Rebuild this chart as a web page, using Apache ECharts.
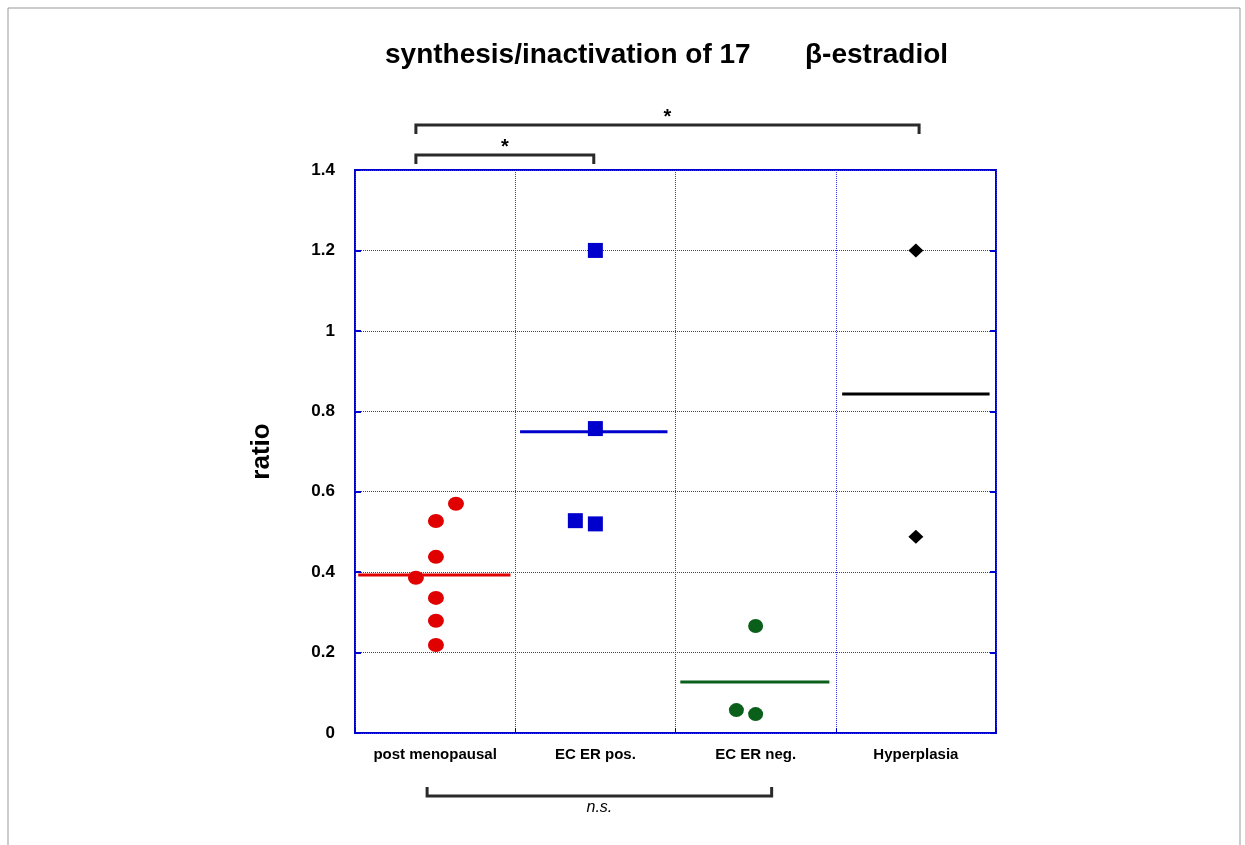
<!DOCTYPE html>
<html lang="en">
<head>
  <meta charset="UTF-8">
  <title>synthesis/inactivation of 17 beta-estradiol</title>
  <script src="https://cdn.jsdelivr.net/npm/echarts@6/dist/echarts.min.js"></script>
  <style>
    html, body { margin: 0; padding: 0; background: #fff; }
    #chart { width: 1245px; height: 845px; }
  </style>
</head>
<body>
<div id="chart"></div>
<script>
  // groups on the x axis
  var categories = ['post menopausal', 'EC ER pos.', 'EC ER neg.', 'Hyperplasia'];
  var yTicks = [0, 0.2, 0.4, 0.6, 0.8, 1, 1.2, 1.4];

  // ratio values per group (x = position across the group, 0..4)
  var pmX = [0.38, 0.505, 0.505, 0.505, 0.505, 0.505, 0.63];
  var pmY = [0.386, 0.438, 0.336, 0.279, 0.219, 0.527, 0.570];
  var posX = [1.5, 1.5, 1.5, 1.375];
  var posY = [1.20, 0.757, 0.52, 0.528];
  var negX = [2.5, 2.38, 2.5];
  var negY = [0.266, 0.057, 0.047];
  var hypX = [3.5, 3.5];
  var hypY = [1.20, 0.488];

  // median lines per group
  var medians = [0.393, 0.749, 0.127, 0.843];
  var medianFrom = [0.02, 1.03, 2.03, 3.04];
  var medianTo = [0.97, 1.95, 2.96, 3.96];

  var colors = ['#e00000', '#0000cc', '#0a5f1a', '#000000'];

  function pts(xs, ys) {
    var out = [];
    for (var i = 0; i < xs.length; i++) out.push([xs[i], ys[i]]);
    return out;
  }

  var chart = echarts.init(document.getElementById('chart'));

  var series = [
    { type: 'scatter', xAxisIndex: 1, symbol: 'circle', symbolSize: [16, 14], data: pts(pmX, pmY), itemStyle: { color: colors[0], opacity: 1 }, z: 3 },
    { type: 'scatter', xAxisIndex: 1, symbol: 'rect', symbolSize: 15, data: pts(posX, posY), itemStyle: { color: colors[1], opacity: 1 }, z: 3 },
    { type: 'scatter', xAxisIndex: 1, symbol: 'circle', symbolSize: [15, 14], data: pts(negX, negY), itemStyle: { color: colors[2], opacity: 1 }, z: 3 },
    { type: 'scatter', xAxisIndex: 1, symbol: 'diamond', symbolSize: [15, 14], data: pts(hypX, hypY), itemStyle: { color: colors[3], opacity: 1 }, z: 3 }
  ];
  for (var g = 0; g < medians.length; g++) {
    series.push({
      type: 'line', xAxisIndex: 1, symbol: 'none', silent: true, z: 2,
      data: [[medianFrom[g], medians[g]], [medianTo[g], medians[g]]],
      lineStyle: { color: colors[g], width: 3 }
    });
  }

  var titleFont = { fontSize: 28, fontWeight: 'bold', color: '#000' };

  var option = {
    backgroundColor: '#fff',
    animation: false,
    textStyle: { fontFamily: 'Liberation Sans, Arial, sans-serif' },
    title: [
      { text: 'synthesis/inactivation of 17', left: 380, top: 36, textStyle: titleFont },
      { text: '\u03b2-estradiol', left: 800, top: 36, textStyle: titleFont }
    ],
    grid: { left: 355, top: 170, width: 641, height: 563, show: true, borderColor: '#0000cc', borderWidth: 2 },
    xAxis: [
      {
        type: 'category', data: categories, boundaryGap: true,
        axisLine: { show: false },
        axisTick: { show: true, inside: true, length: 5, interval: 0, lineStyle: { color: '#0000cc' } },
        axisLabel: { interval: 0, hideOverlap: false, margin: 14, fontSize: 15, fontWeight: 'bold', color: '#000' },
        splitLine: { show: true, interval: 0, lineStyle: { color: '#3333dd', type: 'dotted', width: 1 } }
      },
      { type: 'value', min: 0, max: 4, show: false }
    ],
    yAxis: [
      {
        type: 'value', min: 0, max: 1.4, interval: 0.2,
        name: 'ratio', nameLocation: 'middle', nameGap: 80, nameRotate: 90,
        nameTextStyle: { fontSize: 26, fontWeight: 'bold', color: '#000' },
        axisLine: { show: false },
        axisTick: { show: true, inside: true, length: 6, lineStyle: { color: '#0000cc', width: 2 } },
        axisLabel: { fontSize: 17, fontWeight: 'bold', color: '#000', margin: 20 },
        splitLine: { show: true, lineStyle: { color: '#3333dd', type: 'dotted', width: 1 } }
      },
      {
        type: 'value', min: 0, max: 1.4, interval: 0.2, position: 'right',
        axisLine: { show: false },
        axisTick: { show: true, inside: true, length: 6, lineStyle: { color: '#0000cc', width: 2 } },
        axisLabel: { show: false },
        splitLine: { show: false }
      }
    ],
    series: series
  };
  chart.setOption(option);

  // significance brackets, placed with the chart's own x scale
  var brackets = [
    { from: 0.38, to: 1.49, y: 155, dir: 1, label: '*', labelY: 137, italic: false },
    { from: 0.38, to: 3.52, y: 125, dir: 1, label: '*', labelY: 107, italic: false },
    { from: 0.45, to: 2.6, y: 796, dir: -1, label: 'n.s.', labelY: 800, italic: true }
  ];
  var gfx = [{
    type: 'rect', shape: { x: 8, y: 8, width: 1232, height: 850 },
    style: { fill: null, stroke: '#999', lineWidth: 1 }, silent: true
  }];
  brackets.forEach(function (b) {
    var x1 = chart.convertToPixel({ xAxisIndex: 1 }, b.from);
    var x2 = chart.convertToPixel({ xAxisIndex: 1 }, b.to);
    var tip = b.y + 9 * b.dir;
    gfx.push({
      type: 'polyline', silent: true,
      shape: { points: [[x1, tip], [x1, b.y], [x2, b.y], [x2, tip]] },
      style: { stroke: '#2a2a2a', lineWidth: 3, fill: null }
    });
    gfx.push({
      type: 'text', silent: true,
      x: (x1 + x2) / 2, y: b.labelY,
      style: {
        text: b.label, align: 'center', verticalAlign: 'top',
        font: (b.italic ? 'italic ' : 'bold ') + (b.italic ? '16px' : '20px') + ' Liberation Sans, Arial, sans-serif',
        fill: '#000'
      }
    });
  });
  chart.setOption({ graphic: gfx });
</script>
</body>
</html>
